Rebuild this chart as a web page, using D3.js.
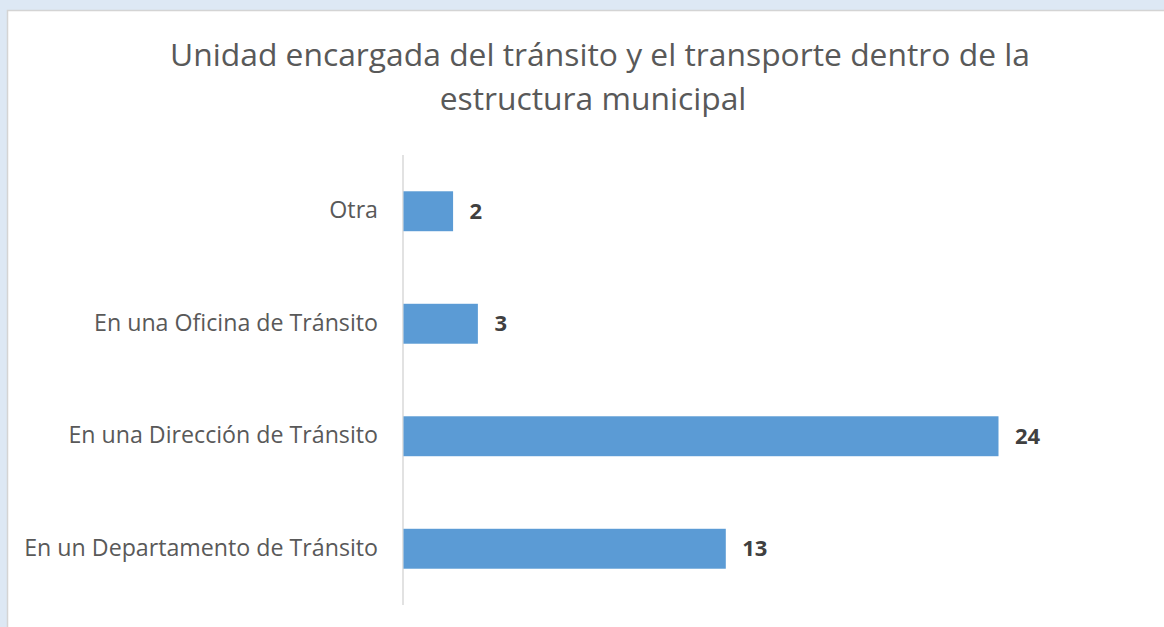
<!DOCTYPE html>
<html><head><meta charset="utf-8">
<script src="https://cdn.jsdelivr.net/npm/d3@7"></script>
<style>
html,body{margin:0;padding:0;background:#dde8f4;overflow:hidden;}
svg{display:block;}
</style></head><body>
<script>
const categories = ["Otra","En una Oficina de Tránsito","En una Dirección de Tránsito","En un Departamento de Tránsito"];
const values = [2,3,24,13];
const titleLines = ["Unidad encargada del tránsito y el transporte dentro de la","estructura municipal"];

const W=1164,H=627;
const svg=d3.select("body").append("svg").attr("width",W).attr("height",H);
svg.append("rect").attr("x",7.5).attr("y",10.5).attr("width",W).attr("height",H)
  .attr("fill","#fff").attr("stroke","#d4d4d4").attr("stroke-width",1.5);

const font="'Open Sans', sans-serif";
const title=svg.append("text").attr("font-family",font).attr("font-size",31.8).attr("fill","#595959").attr("text-anchor","middle");
const titleX=[600,593];
titleLines.forEach((t,i)=>title.append("tspan").attr("x",titleX[i]).attr("y",66+i*44).text(t));

const x0=403;
const x=d3.scaleLinear().domain([0,24]).range([x0,998]);
const y=d3.scaleBand().domain(categories).range([155,605]).paddingInner(0.645).paddingOuter(0.3225);

svg.append("line").attr("x1",x0).attr("x2",x0).attr("y1",155).attr("y2",605).attr("stroke","#d9d9d9").attr("stroke-width",1.5);

svg.selectAll("rect.bar").data(categories).enter().append("rect").attr("class","bar")
  .attr("x",x0+0.5).attr("y",d=>y(d)).attr("height",y.bandwidth())
  .attr("width",(d,i)=>x(values[i])-x0).attr("fill","#5b9bd5");

svg.selectAll("text.cat").data(categories).enter().append("text").attr("class","cat")
  .attr("x",378).attr("y",d=>y(d)+y.bandwidth()/2).attr("dy","0.3em")
  .attr("text-anchor","end").attr("font-family",font).attr("font-size",23.2).attr("fill","#595959").text(d=>d);

svg.selectAll("text.val").data(categories).enter().append("text").attr("class","val")
  .attr("x",(d,i)=>x(values[i])+17).attr("y",d=>y(d)+y.bandwidth()/2).attr("dy","0.35em")
  .attr("font-family",font).attr("font-weight","bold").attr("font-size",22).attr("fill","#404040").text((d,i)=>values[i]);
</script>
</body></html>
